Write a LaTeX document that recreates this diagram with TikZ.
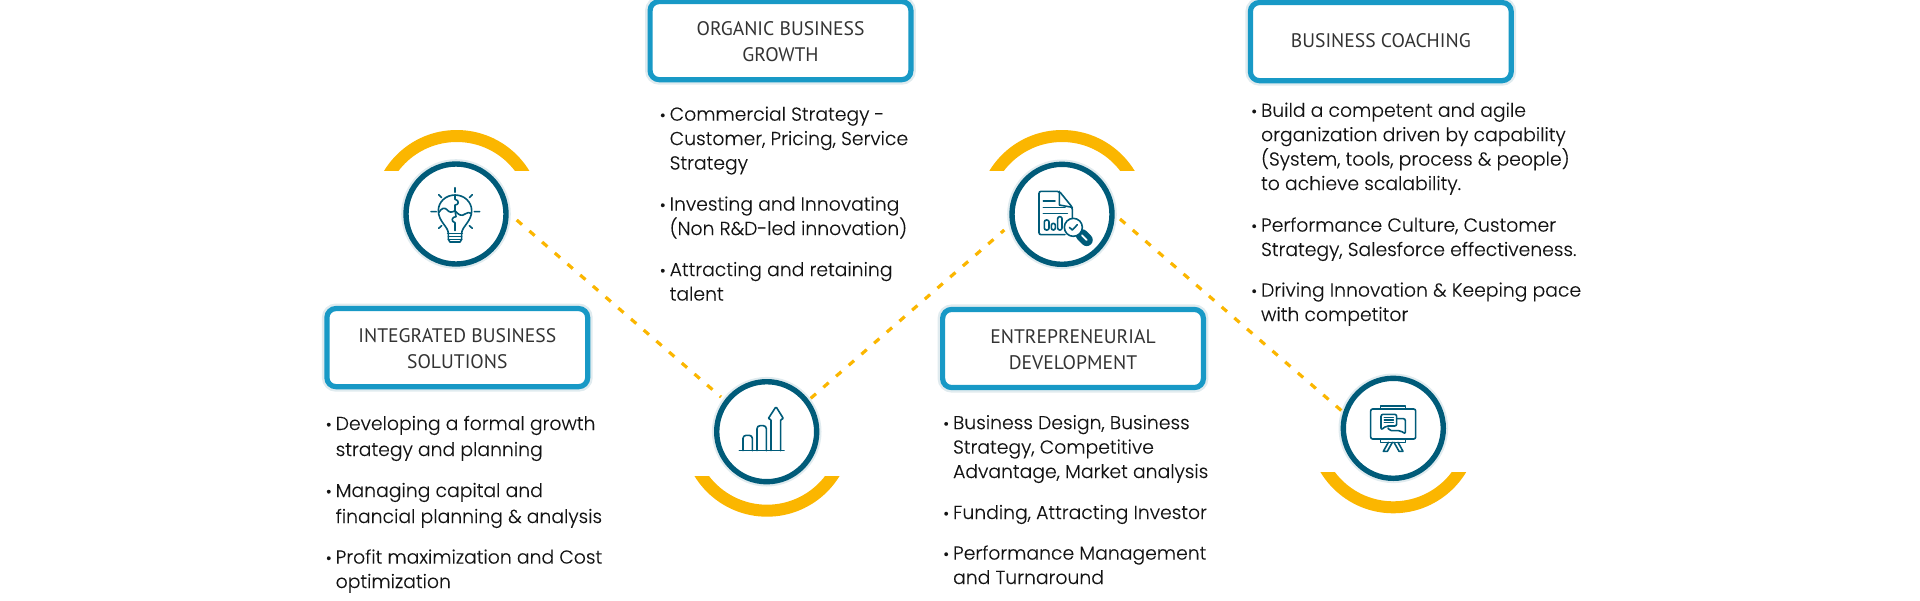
\documentclass[tikz,border=0pt]{standalone}
\usepackage{fontspec}
\usetikzlibrary{calc}
\setmainfont{Poppins Light}[FakeBold=0.12]
\newfontfamily\titlefont{PT Sans}
\definecolor{amberc}{HTML}{FBB600}
\definecolor{tealc}{HTML}{005B79}
\definecolor{boxc}{HTML}{1899C6}
\definecolor{inkc}{HTML}{141414}
\definecolor{titlec}{HTML}{333333}
\newcommand{\blt}{\llap{{\fontsize{8}{8}\selectfont •}\hspace{2pt}}}
\newcommand{\tl}{\rule{0pt}{8pt}}
\tikzset{
  ring/.style={circle,draw=tealc,fill=white,line width=2.7pt,minimum size=50pt,inner sep=0pt,
    preaction={draw=tealc,draw opacity=.12,line width=4.8pt}},
  titlebox/.style={rectangle,draw=boxc,fill=white,line width=2.6pt,rounded corners=4.5pt,
    minimum width=130.4pt,minimum height=39.05pt,inner sep=0pt,align=center,text=titlec,
    font=\titlefont\fontsize{9.8}{13.35}\selectfont,
    preaction={draw=tealc,draw opacity=.12,line width=5pt}},
  bullet/.style={anchor=base west,align=left,inner sep=0pt,text=inkc,
    font=\fontsize{9.4}{12.2}\selectfont},
  bulletwide/.style={bullet,font=\fontsize{9.4}{13}\selectfont},
  conn/.style={draw=amberc,line width=1.6pt,dash pattern=on 3.5pt off 4.9pt},
  band/.style={fill=amberc,even odd rule},
  icon/.style={draw=tealc,line width=.8pt,line join=round,line cap=round},
  iconscope/.style={x=0.16667pt,y=-0.16667pt},
}
\begin{document}
\begin{tikzpicture}[x=0.5pt,y=-0.5pt]
\useasboundingbox (0,0) rectangle (1920,600);
% arcs
\begin{scope}\clip (370,120) rectangle (540,170.7);
  \fill[band] (456.7,215) circle[radius=85] (456.7,215) circle[radius=73];
\end{scope}
\begin{scope}\clip (680,476) rectangle (850,525);
  \fill[band] (767,431.7) circle[radius=85] (767,431.7) circle[radius=73];
\end{scope}
\begin{scope}\clip (975,120) rectangle (1145,170.7);
  \fill[band] (1062,215) circle[radius=85] (1062,215) circle[radius=73];
\end{scope}
\begin{scope}\clip (1310,472.3) rectangle (1480,525);
  \fill[band] (1393.3,428.3) circle[radius=85] (1393.3,428.3) circle[radius=73];
\end{scope}
% positions of rings
\coordinate (p1) at (456,214);
\coordinate (p2) at (766.7,431.7);
\coordinate (p3) at (1062,214.3);
\coordinate (p4) at (1393.3,428.3);
% connector ends
\coordinate (a1) at (516.7,220);
\coordinate (a2) at (721,397);
\coordinate (b1) at (810.7,398.3);
\coordinate (b2) at (1004.3,230);
\coordinate (d1) at (1120,219);
\coordinate (d2) at (1342.7,411.7);
\draw[conn] (a1) -- (a2);
\draw[conn] (b1) -- (b2);
\draw[conn] (d1) -- (d2);
% rings
\node[ring] (c1) at (p1) {};
\node[ring] (c2) at (p2) {};
\node[ring] (c3) at (p3) {};
\node[ring] (c4) at (p4) {};
% icon 1: bulb
\begin{scope}[shift={(370,120)},iconscope]
  \draw[icon] (235,340) .. controls (235,320) and (205,305) .. (205,272) .. controls (205,245) and (228,225) .. (255,225) .. controls (282,225) and (305,245) .. (305,272) .. controls (305,305) and (275,320) .. (275,340);
  \draw[icon] (233,340) -- (277,340) (235,350) -- (275,350) (235,358) -- (275,358);
  \draw[icon] (235,340) -- (235,358) -- (240,366) -- (270,366) -- (275,358) -- (275,340);
  \draw[icon] (206,278) .. controls (215,262) and (225,262) .. (232,270) .. controls (238,278) and (245,278) .. (255,272) .. controls (265,285) and (275,290) .. (285,282) .. controls (292,275) and (298,278) .. (304,280);
  \draw[icon] (255,225) -- (255,238) .. controls (268,240) and (268,255) .. (255,255) -- (255,272) -- (258,290) .. controls (245,290) and (242,305) .. (255,308) -- (255,332);
  \draw[icon] (255,203) -- (255,217) (183,275) -- (199,275) (313,275) -- (329,275) (206,224) -- (215,233) (307,224) -- (298,233) (206,325) -- (215,317) (307,325) -- (298,317);
\end{scope}
% icon 2: chart
\begin{scope}[shift={(680,360)},iconscope]
  \draw[icon] (178,272) -- (312,272);
  \draw[icon,rounded corners=1.5pt] (189,272) -- (189,226) -- (217,226) -- (217,272);
  \draw[icon,rounded corners=1.5pt] (231,272) -- (231,197) -- (259,197) -- (259,272);
  \draw[icon,rounded corners=.6pt] (273,272) -- (273,177) -- (264,177) -- (288,140) -- (311,177) -- (302,177) -- (302,272);
\end{scope}
% icon 3: document
\begin{scope}[shift={(980,120)},iconscope]
  \draw[icon,rounded corners=1pt] (277,300) -- (277,262) -- (238,214) -- (177,214) -- (177,344) -- (255,344);
  \draw[icon] (238,214) -- (238,255) -- (277,262);
  \draw[icon] (190,243) -- (225,243) (190,262) -- (255,262) (190,281) -- (262,281);
  \draw[icon,rounded corners=1pt] (193,330) -- (193,300) -- (207,300) -- (207,330) -- cycle;
  \draw[icon,rounded corners=1pt] (214,330) -- (214,310) -- (226,310) -- (226,330) -- cycle;
  \draw[icon,rounded corners=1pt] (233,330) -- (233,290) -- (246,290) -- (246,330) -- cycle;
  \draw[icon,line width=2.6pt,double=white,double distance=.9pt,line cap=round] (306,346) -- (320,360);
  \draw[icon,fill=white] (280,322) circle[radius=27];
  \draw[icon] (268,322) -- (277,330) -- (292,314);
\end{scope}
% icon 4: board
\begin{scope}[shift={(1300,360)},iconscope]
  \draw[icon,rounded corners=1pt] (212,147) rectangle (347,237);
  \draw[icon] (242,147) -- (242,138) -- (317,138) -- (317,147);
  \draw[icon] (242,237) -- (242,247) -- (317,247) -- (317,237);
  \draw[icon] (265,247) -- (250,274) -- (262,274) -- (277,247) (282,247) -- (297,274) -- (309,274) -- (294,247);
  \draw[icon,rounded corners=1pt] (290,176) -- (316,176) -- (316,222) -- (302,212) -- (268,212) -- (264,204);
  \draw[icon,rounded corners=1pt,fill=white] (243,163) -- (290,163) -- (290,198) -- (258,198) -- (243,210) -- cycle;
  \draw[icon] (253,172) -- (280,172) (253,180) -- (280,180) (253,188) -- (280,188);
\end{scope}
% title boxes
\node[titlebox] (t1) at (457.3,347.6) {\tl INTEGRATED BUSINESS\\SOLUTIONS};
\node[titlebox] (t2) at (780.5,40.6) {\tl ORGANIC BUSINESS\\GROWTH};
\node[titlebox] (t3) at (1073,348.5) {\tl ENTREPRENEURIAL\\DEVELOPMENT};
\node[titlebox] (t4) at (1380.8,41.6) {\raisebox{1.2pt}{BUSINESS COACHING}};
% bullets: left (anchor = baseline of the last line)
\node[bulletwide] (l1) at (335.3,456) {\blt Developing a formal growth\\strategy and planning};
\node[bulletwide] (l2) at (335.3,523) {\blt Managing capital and\\financial planning \& analysis};
\node[bullet] (l3) at (335.3,588) {\blt Profit maximization and Cost\\optimization};
% bullets: organic
\node[bullet] (m1) at (669.3,169.5) {\blt Commercial Strategy -\\Customer, Pricing, Service\\Strategy};
\node[bullet] (m2) at (669.3,235) {\blt Investing and Innovating\\(Non R\&D-led innovation)};
\node[bullet] (m3) at (669.3,300.5) {\blt Attracting and retaining\\talent};
% bullets: entrepreneurial
\node[bullet] (e1) at (952.7,478) {\blt Business Design, Business\\Strategy, Competitive\\Advantage, Market analysis};
\node[bullet] (e2) at (952.7,519) {\blt Funding, Attracting Investor};
\node[bullet] (e3) at (952.7,584) {\blt Performance Management\\and Turnaround};
% bullets: coaching
\node[bullet] (r1) at (1260.7,190) {\blt Build a competent and agile\\organization driven by capability\\(System, tools, process \& people)\\to achieve scalability.};
\node[bullet] (r2) at (1260.7,256) {\blt Performance Culture, Customer\\Strategy, Salesforce effectiveness.};
\node[bullet] (r3) at (1260.7,321) {\blt Driving Innovation \& Keeping pace\\with competitor};
\end{tikzpicture}
\end{document}
